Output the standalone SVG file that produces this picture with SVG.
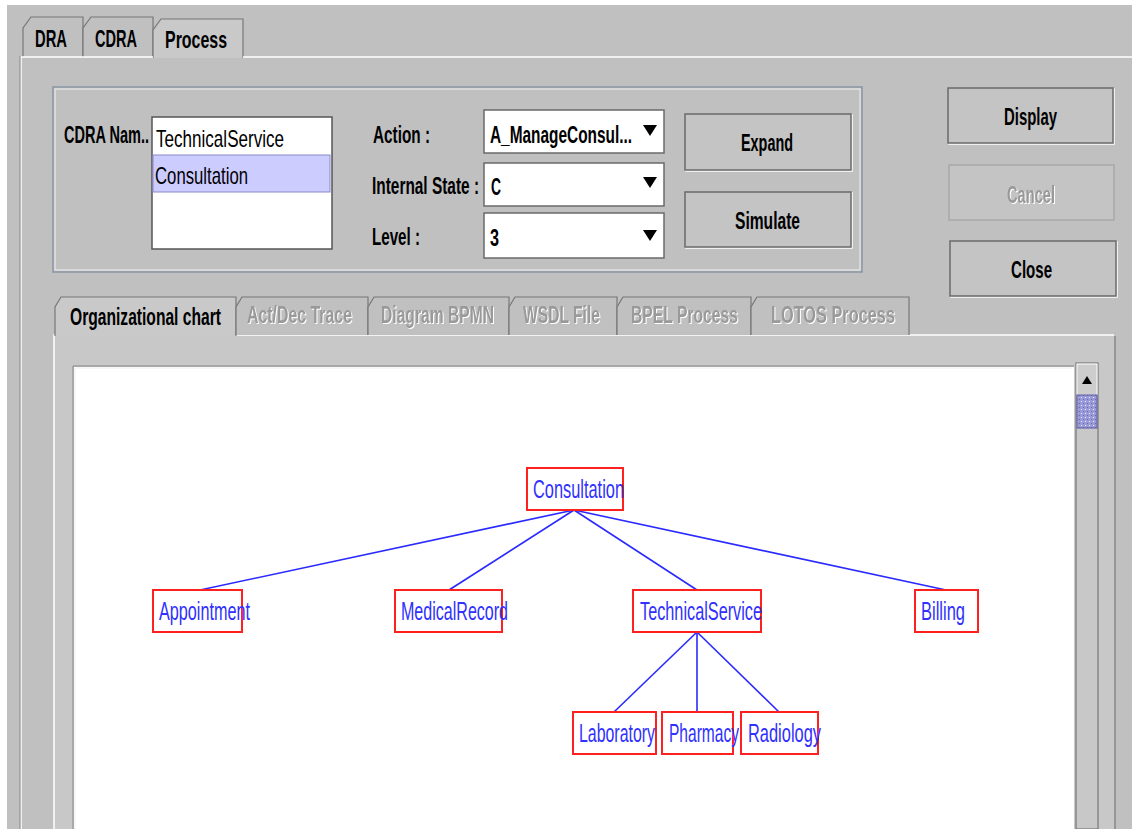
<svg xmlns="http://www.w3.org/2000/svg" width="1132" height="829" viewBox="0 0 1132 829">
<style>
.ui{font-family:"Liberation Sans",Arial,sans-serif;font-weight:bold;font-size:23px;fill:#000}
.uin{font-family:"Liberation Sans",Arial,sans-serif;font-size:23px;fill:#000}
.dis{font-family:"Liberation Sans",Arial,sans-serif;font-weight:bold;font-size:23px;fill:#999;filter:url(#emb)}
.nd{font-family:"Liberation Sans",Arial,sans-serif;font-size:25px;fill:#3030ff}
.box{fill:#fff;stroke:#ff2020;stroke-width:2}
.edge{stroke:#2a2aff;stroke-width:1.6;fill:none}
.btn{fill:#c4c4c4;stroke:#6a6a6a;stroke-width:1.5}
.btnh{fill:none;stroke:#fff;stroke-width:1.5}
.combo{fill:#fff;stroke:#6a6a6a;stroke-width:1.5}
.tab{fill:#c0c0c0;stroke:#777;stroke-width:1.2}
.tabsel{fill:#c9c9c9;stroke:#777;stroke-width:1.2}
</style>
<defs>
<pattern id="dots" width="4" height="4" patternUnits="userSpaceOnUse">
<rect width="4" height="4" fill="#9a9ad8"/>
<rect x="1" y="1" width="1" height="1" fill="#e6e6ff"/>
<rect x="3" y="3" width="1" height="1" fill="#6868b0"/>
</pattern>
<filter id="emb" x="-5%" y="-20%" width="110%" height="140%">
<feOffset in="SourceAlpha" dx="1.4" dy="1" result="o"/>
<feFlood flood-color="#ffffff"/>
<feComposite in2="o" operator="in" result="w"/>
<feMerge><feMergeNode in="w"/><feMergeNode in="SourceGraphic"/></feMerge>
</filter>
</defs>
<rect width="1132" height="829" fill="#fff"/>
<rect x="7" y="5" width="1125" height="824" fill="#c0c0c0"/>

<g id="top-tabs">
<path class="tab" d="M23,57 L23,28 L31,17 L83,17 L83,57"/>
<text class="ui" transform="translate(35,47) scale(0.7,1)" textLength="45.7" lengthAdjust="spacingAndGlyphs">DRA</text>
<path class="tab" d="M83,57 L83,28 L91,17 L153,17 L153,57"/>
<text class="ui" transform="translate(95,47) scale(0.7,1)" textLength="60" lengthAdjust="spacingAndGlyphs">CDRA</text>
<path class="tabsel" d="M153,58 L153,30 L161,19 L243,19 L243,58"/>
<text class="ui" transform="translate(165,48) scale(0.7,1)" textLength="88.6" lengthAdjust="spacingAndGlyphs">Process</text>
</g>

<g id="outer-panel">
<path d="M21,829 L21,57 L153,57 M243,57 L1132,57" stroke="#fff" stroke-width="1.5" fill="none"/>
<path d="M20,829 L20,56" stroke="#888" stroke-width="1" fill="none"/>
</g>

<g id="group-box">
<rect x="53" y="87" width="809" height="185" fill="none" stroke="#8a96a4" stroke-width="1.5"/>
<rect x="55" y="89" width="805" height="181" fill="none" stroke="#f0f0f0" stroke-width="1"/>
<text class="ui" transform="translate(64,143) scale(0.7,1)" textLength="121.4" lengthAdjust="spacingAndGlyphs">CDRA Nam..</text>
<rect x="152" y="117" width="180" height="132" fill="#fff" stroke="#555" stroke-width="1.5"/>
<rect x="153" y="155" width="177" height="37" fill="#ccccff" stroke="#8888cc" stroke-width="1"/>
<text class="uin" transform="translate(156,147) scale(0.7,1)" textLength="182.9" lengthAdjust="spacingAndGlyphs">TechnicalService</text>
<text class="uin" transform="translate(155,184) scale(0.7,1)" textLength="132.9" lengthAdjust="spacingAndGlyphs">Consultation</text>

<text class="ui" transform="translate(373,143) scale(0.7,1)" textLength="81.4" lengthAdjust="spacingAndGlyphs">Action :</text>
<text class="ui" transform="translate(372,194) scale(0.7,1)" textLength="152.9" lengthAdjust="spacingAndGlyphs">Internal State :</text>
<text class="ui" transform="translate(372,245) scale(0.7,1)" textLength="68.6" lengthAdjust="spacingAndGlyphs">Level :</text>

<rect class="combo" x="484" y="110" width="180" height="43"/>
<text class="ui" transform="translate(490,143) scale(0.7,1)" textLength="202.9" lengthAdjust="spacingAndGlyphs">A_ManageConsul...</text>
<path d="M643,125 L657,125 L650,136 Z" fill="#000"/>
<rect class="combo" x="484" y="163" width="180" height="43"/>
<text class="ui" transform="translate(491,195) scale(0.7,1)" textLength="14.3" lengthAdjust="spacingAndGlyphs">C</text>
<path d="M643,177 L657,177 L650,188 Z" fill="#000"/>
<rect class="combo" x="484" y="213" width="180" height="45"/>
<text class="ui" transform="translate(490,246) scale(0.7,1)" textLength="12.9" lengthAdjust="spacingAndGlyphs">3</text>
<path d="M643,230 L657,230 L650,241 Z" fill="#000"/>

<rect class="btnh" x="686" y="115" width="166" height="56"/>
<rect class="btn" x="685" y="114" width="166" height="56"/>
<text class="ui" transform="translate(741,151) scale(0.7,1)" textLength="74.3" lengthAdjust="spacingAndGlyphs">Expand</text>
<rect class="btnh" x="686" y="193" width="166" height="55"/>
<rect class="btn" x="685" y="192" width="166" height="55"/>
<text class="ui" transform="translate(735,229) scale(0.7,1)" textLength="92.9" lengthAdjust="spacingAndGlyphs">Simulate</text>
</g>

<g id="side-buttons">
<rect class="btnh" x="949" y="89" width="165" height="55"/>
<rect class="btn" x="948" y="88" width="165" height="55"/>
<text class="ui" transform="translate(1004,125) scale(0.7,1)" textLength="75.7" lengthAdjust="spacingAndGlyphs">Display</text>
<rect x="949" y="165" width="165" height="55" fill="#c4c4c4" stroke="#a8a8a8" stroke-width="1.5"/>
<text class="dis" transform="translate(1007,203) scale(0.7,1)" textLength="68.6" lengthAdjust="spacingAndGlyphs">Cancel</text>
<rect class="btnh" x="951" y="242" width="166" height="55"/>
<rect class="btn" x="950" y="241" width="166" height="55"/>
<text class="ui" transform="translate(1011,278) scale(0.7,1)" textLength="58.6" lengthAdjust="spacingAndGlyphs">Close</text>
</g>

<g id="inner-tabs">
<rect x="54" y="335" width="1061" height="494" fill="#c8c8c8"/>
<path d="M54,829 L54,335 L55,335 M236,335 L1114,335" stroke="#fff" stroke-width="1.5" fill="none"/>
<path d="M1115,336 L1115,829" stroke="#777" stroke-width="1.2" fill="none"/>
<path class="tabsel" d="M55,336 L55,307 L61,297 L236,297 L236,336"/>
<text class="ui" transform="translate(70,325) scale(0.7,1)" textLength="215.7" lengthAdjust="spacingAndGlyphs">Organizational chart</text>
<path class="tab" d="M236,335 L236,307 L242,297 L368,297 L368,335"/>
<text class="dis" transform="translate(247,323) scale(0.7,1)" textLength="150" lengthAdjust="spacingAndGlyphs">Act/Dec Trace</text>
<path class="tab" d="M368,335 L368,307 L374,297 L509,297 L509,335"/>
<text class="dis" transform="translate(381,323) scale(0.7,1)" textLength="161.4" lengthAdjust="spacingAndGlyphs">Diagram BPMN</text>
<path class="tab" d="M509,335 L509,307 L515,297 L617,297 L617,335"/>
<text class="dis" transform="translate(523,323) scale(0.7,1)" textLength="110" lengthAdjust="spacingAndGlyphs">WSDL File</text>
<path class="tab" d="M617,335 L617,307 L623,297 L751,297 L751,335"/>
<text class="dis" transform="translate(631,323) scale(0.7,1)" textLength="152.9" lengthAdjust="spacingAndGlyphs">BPEL Process</text>
<path class="tab" d="M751,335 L751,307 L757,297 L909,297 L909,335"/>
<text class="dis" transform="translate(771,323) scale(0.7,1)" textLength="177.1" lengthAdjust="spacingAndGlyphs">LOTOS Process</text>
</g>

<g id="canvas">
<rect x="74" y="367" width="1000" height="462" fill="#fff"/>
<path d="M73,829 L73,366 L1074,366" stroke="#888" stroke-width="1" fill="none"/>
<path d="M75,829 L75,368 L1072,368" stroke="#eee" stroke-width="1" fill="none"/>
</g>

<g id="scrollbar">
<rect x="1076" y="363" width="22" height="466" fill="#c8c8c8" stroke="#777" stroke-width="1.2"/>
<rect x="1077" y="364" width="20" height="31" fill="#cdcdcd" stroke="#fff" stroke-width="1"/>
<path d="M1082,384 L1092,384 L1087,376 Z" fill="#000"/>
<rect x="1077" y="395" width="20" height="33" fill="url(#dots)" stroke="#6666aa" stroke-width="1.2"/>
</g>

<g id="connectors">
<line class="edge" x1="574" y1="510" x2="200" y2="590"/>
<line class="edge" x1="574" y1="510" x2="449" y2="590"/>
<line class="edge" x1="574" y1="510" x2="697" y2="590"/>
<line class="edge" x1="574" y1="510" x2="946" y2="590"/>
<line class="edge" x1="697" y1="632" x2="614" y2="712"/>
<line class="edge" x1="697" y1="632" x2="697" y2="712"/>
<line class="edge" x1="697" y1="632" x2="779" y2="712"/>
</g>

<g id="node-consultation">
<rect class="box" x="527" y="468" width="96" height="42"/>
<text class="nd" transform="translate(533,498) scale(0.7,1)" textLength="130" lengthAdjust="spacingAndGlyphs">Consultation</text>
</g>
<g id="node-appointment">
<rect class="box" x="153" y="590" width="89" height="42"/>
<text class="nd" transform="translate(159,620) scale(0.7,1)" textLength="130" lengthAdjust="spacingAndGlyphs">Appointment</text>
</g>
<g id="node-medicalrecord">
<rect class="box" x="395" y="590" width="107" height="42"/>
<text class="nd" transform="translate(401,620) scale(0.7,1)" textLength="152.9" lengthAdjust="spacingAndGlyphs">MedicalRecord</text>
</g>
<g id="node-technicalservice">
<rect class="box" x="633" y="590" width="128" height="42"/>
<text class="nd" transform="translate(640,620) scale(0.7,1)" textLength="174.3" lengthAdjust="spacingAndGlyphs">TechnicalService</text>
</g>
<g id="node-billing">
<rect class="box" x="915" y="590" width="63" height="42"/>
<text class="nd" transform="translate(921,620) scale(0.7,1)" textLength="62.9" lengthAdjust="spacingAndGlyphs">Billing</text>
</g>
<g id="node-laboratory">
<rect class="box" x="573" y="712" width="83" height="42"/>
<text class="nd" transform="translate(579,742) scale(0.7,1)" textLength="108.6" lengthAdjust="spacingAndGlyphs">Laboratory</text>
</g>
<g id="node-pharmacy">
<rect class="box" x="662" y="712" width="71" height="42"/>
<text class="nd" transform="translate(669,742) scale(0.7,1)" textLength="100" lengthAdjust="spacingAndGlyphs">Pharmacy</text>
</g>
<g id="node-radiology">
<rect class="box" x="741" y="712" width="77" height="42"/>
<text class="nd" transform="translate(748,742) scale(0.7,1)" textLength="104.3" lengthAdjust="spacingAndGlyphs">Radiology</text>
</g>
</svg>
